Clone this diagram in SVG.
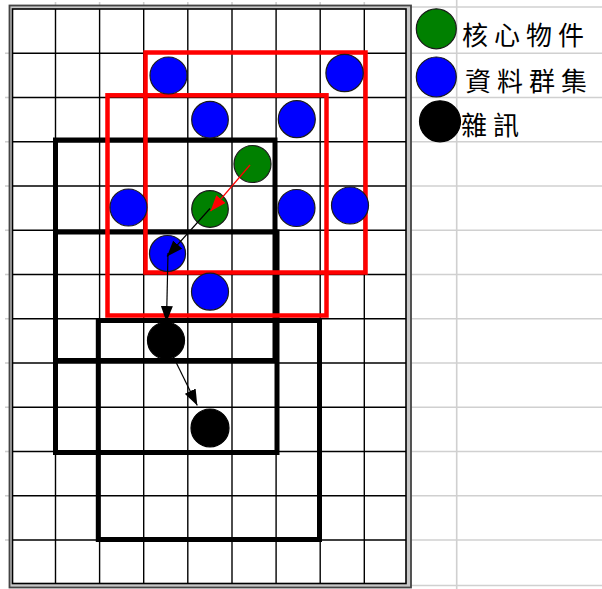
<svg xmlns="http://www.w3.org/2000/svg" width="602" height="589" viewBox="0 0 602 589">
  <defs>
    <style>
      .grid line { stroke: #000; stroke-width: 1.4; }
      .xgrid line { stroke: #d0d0d0; stroke-width: 1.6; }
      .win { fill: none; stroke: #000; stroke-width: 5; stroke-linejoin: miter; }
      .win-red { fill: none; stroke: #ff0000; stroke-width: 4.5; stroke-linejoin: miter; }
      .core { fill: #008000; stroke: #1a1a1a; stroke-width: 1.2; }
      .cluster { fill: #0000ff; stroke: #1a1a1a; stroke-width: 1.2; }
      .noise { fill: #000; stroke: #000; stroke-width: 1.2; }
      .arrow { fill: none; stroke: #000; stroke-width: 1.2; }
      .arrow-red { fill: none; stroke: #ff0000; stroke-width: 1.3; }
      .label { font-family: "Noto Sans CJK TC", "Noto Sans CJK SC", sans-serif; font-size: 26px; fill: #000; letter-spacing: 6px; }
    </style>
    <marker id="ah" viewBox="0 0 16 12" refX="16" refY="6" markerWidth="16" markerHeight="12" markerUnits="userSpaceOnUse" orient="auto">
      <path d="M0,0 L16,6 L0,12 z" fill="#000"/>
    </marker>
    <marker id="ah-red" viewBox="0 0 16 12" refX="16" refY="6" markerWidth="16" markerHeight="12" markerUnits="userSpaceOnUse" orient="auto">
      <path d="M0,0 L16,6 L0,12 z" fill="#ff0000"/>
    </marker>
  </defs>

  <rect width="602" height="589" fill="#fff"/>

  <!-- spreadsheet gridlines outside the table -->
  <g class="xgrid">
    <line x1="411" y1="7" x2="602" y2="7"/>
    <line x1="411" y1="53.25" x2="602" y2="53.25"/>
    <line x1="411" y1="97.5" x2="602" y2="97.5"/>
    <line x1="411" y1="141.75" x2="602" y2="141.75"/>
    <line x1="411" y1="186" x2="602" y2="186"/>
    <line x1="411" y1="230.25" x2="602" y2="230.25"/>
    <line x1="411" y1="274.5" x2="602" y2="274.5"/>
    <line x1="411" y1="318.75" x2="602" y2="318.75"/>
    <line x1="411" y1="363" x2="602" y2="363"/>
    <line x1="411" y1="407.25" x2="602" y2="407.25"/>
    <line x1="411" y1="451.5" x2="602" y2="451.5"/>
    <line x1="411" y1="495.75" x2="602" y2="495.75"/>
    <line x1="411" y1="540" x2="602" y2="540"/>
    <line x1="411" y1="585.5" x2="602" y2="585.5"/>
    <line x1="456.7" y1="0" x2="456.7" y2="589"/>
    <line x1="5" y1="53.25" x2="9" y2="53.25"/>
    <line x1="5" y1="97.5" x2="9" y2="97.5"/>
    <line x1="5" y1="141.75" x2="9" y2="141.75"/>
    <line x1="5" y1="186" x2="9" y2="186"/>
    <line x1="5" y1="230.25" x2="9" y2="230.25"/>
    <line x1="5" y1="274.5" x2="9" y2="274.5"/>
    <line x1="5" y1="318.75" x2="9" y2="318.75"/>
    <line x1="5" y1="363" x2="9" y2="363"/>
    <line x1="5" y1="407.25" x2="9" y2="407.25"/>
    <line x1="5" y1="451.5" x2="9" y2="451.5"/>
    <line x1="5" y1="495.75" x2="9" y2="495.75"/>
    <line x1="5" y1="540" x2="9" y2="540"/>
    <line x1="55.5" y1="2" x2="55.5" y2="5"/>
    <line x1="99.6" y1="2" x2="99.6" y2="5"/>
    <line x1="143.7" y1="2" x2="143.7" y2="5"/>
    <line x1="187.8" y1="2" x2="187.8" y2="5"/>
    <line x1="232" y1="2" x2="232" y2="5"/>
    <line x1="276.1" y1="2" x2="276.1" y2="5"/>
    <line x1="320.2" y1="2" x2="320.2" y2="5"/>
    <line x1="364.3" y1="2" x2="364.3" y2="5"/>
  </g>

  <!-- table frame (double border) -->
  <g id="frame">
    <rect x="9.5" y="5.5" width="401.5" height="582" fill="#c8c8c8" stroke="#444" stroke-width="1.8"/>
    <rect x="12.5" y="9" width="393.5" height="574.5" fill="#fff" stroke="#000" stroke-width="1.6"/>
  </g>

  <!-- grid -->
  <g class="grid">
    <line x1="55.5" y1="9" x2="55.5" y2="583.5"/>
    <line x1="99.6" y1="9" x2="99.6" y2="583.5"/>
    <line x1="143.7" y1="9" x2="143.7" y2="583.5"/>
    <line x1="187.8" y1="9" x2="187.8" y2="583.5"/>
    <line x1="232" y1="9" x2="232" y2="583.5"/>
    <line x1="276.1" y1="9" x2="276.1" y2="583.5"/>
    <line x1="320.2" y1="9" x2="320.2" y2="583.5"/>
    <line x1="364.3" y1="9" x2="364.3" y2="583.5"/>
    <line x1="12.5" y1="53.25" x2="406" y2="53.25"/>
    <line x1="12.5" y1="97.5" x2="406" y2="97.5"/>
    <line x1="12.5" y1="141.75" x2="406" y2="141.75"/>
    <line x1="12.5" y1="186" x2="406" y2="186"/>
    <line x1="12.5" y1="230.25" x2="406" y2="230.25"/>
    <line x1="12.5" y1="274.5" x2="406" y2="274.5"/>
    <line x1="12.5" y1="318.75" x2="406" y2="318.75"/>
    <line x1="12.5" y1="363" x2="406" y2="363"/>
    <line x1="12.5" y1="407.25" x2="406" y2="407.25"/>
    <line x1="12.5" y1="451.5" x2="406" y2="451.5"/>
    <line x1="12.5" y1="495.75" x2="406" y2="495.75"/>
    <line x1="12.5" y1="540" x2="406" y2="540"/>
  </g>

  <!-- search windows -->
  <g id="window-black-1"><rect class="win" x="55.5" y="140" width="219.5" height="220.5"/></g>
  <g id="window-black-2"><rect class="win" x="55.5" y="232" width="221.5" height="220.5"/></g>
  <g id="window-black-3"><rect class="win" x="98.3" y="320.5" width="221.2" height="219"/></g>
  <g id="window-red-1"><rect class="win-red" x="145.5" y="52.5" width="220" height="220"/></g>
  <g id="window-red-2"><rect class="win-red" x="107.5" y="95.3" width="219" height="220.2"/></g>

  <!-- points -->
  <g id="blue-1"><circle class="cluster" cx="168.5" cy="75.5" r="18.5"/></g>
  <g id="blue-2"><circle class="cluster" cx="344.6" cy="73" r="18.7"/></g>
  <g id="blue-3"><circle class="cluster" cx="210" cy="119.7" r="18.3"/></g>
  <g id="blue-4"><circle class="cluster" cx="296.8" cy="119.2" r="18.5"/></g>
  <g id="blue-5"><circle class="cluster" cx="128.5" cy="207.5" r="18.5"/></g>
  <g id="blue-6"><circle class="cluster" cx="296.5" cy="208" r="18.5"/></g>
  <g id="blue-7"><circle class="cluster" cx="350" cy="205.5" r="18.5"/></g>
  <g id="blue-8"><circle class="cluster" cx="167.5" cy="253.5" r="18"/></g>
  <g id="blue-9"><circle class="cluster" cx="210" cy="291.7" r="18.5"/></g>
  <g id="green-1"><circle class="core" cx="252.5" cy="164" r="18.5"/></g>
  <g id="green-2"><circle class="core" cx="210" cy="209" r="18.3"/></g>
  <g id="black-1"><circle class="noise" cx="166" cy="340.5" r="18.5"/></g>
  <g id="black-2"><circle class="noise" cx="210" cy="428" r="19"/></g>

  <!-- connectors -->
  <g id="connectors">
    <line class="arrow-red" x1="250" y1="165" x2="210.5" y2="211.2" marker-end="url(#ah-red)"/>
    <line class="arrow" x1="210" y1="208.5" x2="167" y2="256.5" marker-end="url(#ah)"/>
    <line class="arrow" x1="168" y1="253" x2="166.5" y2="322" marker-end="url(#ah)"/>
    <line class="arrow" x1="170" y1="350" x2="197.3" y2="405.5" marker-end="url(#ah)"/>
  </g>

  <!-- legend -->
  <g id="legend-core">
    <circle class="core" cx="436.3" cy="28.8" r="20"/>
    <text class="label" x="462" y="45">核心物件</text>
  </g>
  <g id="legend-cluster">
    <circle class="cluster" cx="436.3" cy="77" r="20"/>
    <text class="label" x="465" y="91">資料群集</text>
  </g>
  <g id="legend-noise">
    <circle class="noise" cx="440" cy="121.3" r="20.5"/>
    <text class="label" x="461" y="135">雜訊</text>
  </g>
</svg>
